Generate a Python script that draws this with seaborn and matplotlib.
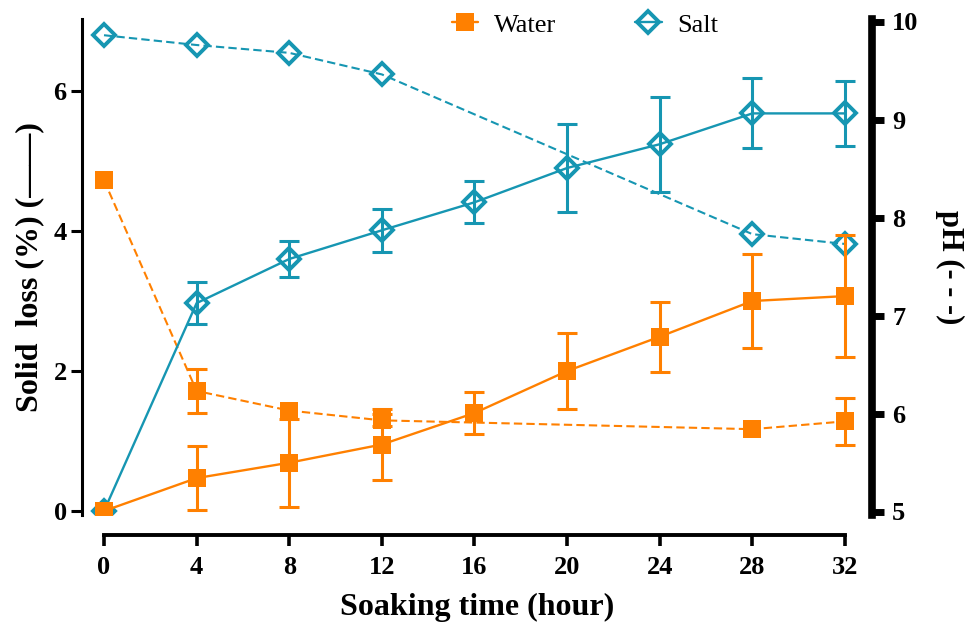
import numpy as np
import pandas as pd
import matplotlib
matplotlib.use("Agg")
import matplotlib.pyplot as plt
import seaborn as sns

# Soaking times (hour)
hours = [0, 4, 8, 12, 16, 20, 24, 28, 32]
ph_hours = [0, 4, 8, 12, 28, 32]

# Solid loss (%) with standard deviations
water_loss = [0.0, 0.47, 0.69, 0.95, 1.40, 2.00, 2.49, 3.00, 3.07]
water_loss_sd = [0.0, 0.46, 0.63, 0.51, 0.30, 0.54, 0.50, 0.67, 0.87]
salt_loss = [0.0, 2.97, 3.60, 4.01, 4.41, 4.90, 5.24, 5.68, 5.68]
salt_loss_sd = [0.0, 0.30, 0.26, 0.31, 0.30, 0.63, 0.68, 0.50, 0.47]

# pH of the soaking medium
water_ph = [8.38, 6.23, 6.03, 5.93, 5.84, 5.92]
water_ph_sd = [0.0, 0.22, 0.0, 0.06, 0.0, 0.24]
salt_ph = [9.86, 9.76, 9.68, 9.46, 7.83, 7.73]

x_ticks = [0, 4, 8, 12, 16, 20, 24, 28, 32]
loss_ticks = [0, 2, 4, 6]
ph_ticks = [5, 6, 7, 8, 9, 10]

ORANGE = "#FF8000"
TEAL = "#1696B2"

sns.set_style("ticks")
plt.rcParams["font.family"] = ["Liberation Serif", "DejaVu Serif"]
plt.rcParams["font.weight"] = "bold"
for key in ["axes.edgecolor", "text.color", "axes.labelcolor", "xtick.color", "ytick.color"]:
    plt.rcParams[key] = "black"

loss_df = pd.DataFrame({"hour": hours, "water": water_loss, "salt": salt_loss,
                        "water_sd": water_loss_sd, "salt_sd": salt_loss_sd})
ph_df = pd.DataFrame({"hour": ph_hours, "water": water_ph, "salt": salt_ph,
                      "water_sd": water_ph_sd})

fig = plt.figure(figsize=(9.66, 6.26), dpi=100)
ax = fig.add_axes([82 / 966, 1 - 515 / 626, (872 - 82) / 966, (515 - 19) / 626])
ax2 = ax.twinx()

line_kw = dict(linewidth=1.7, errorbar=None, legend=False)
dash_kw = dict(linewidth=1.5, errorbar=None, legend=False, linestyle=(0, (4, 2)))
sq_kw = dict(marker="s", markersize=13.5, markeredgewidth=0, markeredgecolor=ORANGE)
dm_kw = dict(marker="D", markersize=10.8, markeredgewidth=2.8,
             markeredgecolor=TEAL, markerfacecolor="none")
err_kw = dict(fmt="none", elinewidth=2.2, capsize=7, capthick=2.2)

# pH curves on the right axis
sns.lineplot(data=ph_df, x="hour", y="salt", ax=ax2, color=TEAL, **dash_kw, **dm_kw)
m = ph_df["water_sd"] > 0
ax2.errorbar(ph_df["hour"][m], ph_df["water"][m], yerr=ph_df["water_sd"][m],
             ecolor=ORANGE, **err_kw)
sns.lineplot(data=ph_df, x="hour", y="water", ax=ax2, color=ORANGE, **dash_kw, **sq_kw)

# Solid loss curves on the left axis
m = loss_df["salt_sd"] > 0
ax.errorbar(loss_df["hour"][m], loss_df["salt"][m], yerr=loss_df["salt_sd"][m],
            ecolor=TEAL, **err_kw)
sns.lineplot(data=loss_df, x="hour", y="salt", ax=ax, color=TEAL, **line_kw, **dm_kw)
salt_handle = ax.lines[-1]
m = loss_df["water_sd"] > 0
ax.errorbar(loss_df["hour"][m], loss_df["water"][m], yerr=loss_df["water_sd"][m],
            ecolor=ORANGE, **err_kw)
sns.lineplot(data=loss_df, x="hour", y="water", ax=ax, color=ORANGE, **line_kw, **sq_kw)
water_handle = ax.lines[-1]

ax.set_zorder(ax2.get_zorder() + 1)
ax.patch.set_visible(False)

# Axis limits and ticks
ax.set_xlim(-22 / 23.156, 32 + 27 / 23.156)
ax.set_ylim(-4 / 70, (511 - 19) / 70)
ax2.set_ylim(5 - 3.5 / 98, 5 + (511.5 - 19) / 98)
ax.set_xticks(x_ticks)
ax.set_yticks(loss_ticks)
ax2.set_yticks(ph_ticks)

for s in ["top", "right"]:
    ax.spines[s].set_visible(False)
for s in ["top", "left", "bottom"]:
    ax2.spines[s].set_visible(False)
ax.spines["left"].set_linewidth(2.2)
ax.spines["bottom"].set_linewidth(2.8)
ax.spines["bottom"].set_position(("outward", 14.4))
ax.spines["bottom"].set_bounds(0, 32)
ax2.spines["right"].set_linewidth(5.5)

ax.tick_params(axis="y", length=8, width=2.2, labelsize=19, pad=3)
ax.tick_params(axis="x", length=8, width=2.6, labelsize=19, pad=7)
ax2.tick_params(axis="y", length=8.5, width=5, labelsize=19, pad=6)

ax.set_xlabel("Soaking time (hour)", fontsize=23, fontweight="bold", labelpad=10)
ax.set_ylabel("Solid  loss (%) (——)", fontsize=23, fontweight="bold", labelpad=7)
ax2.set_ylabel("pH (- - -)", fontsize=22, fontweight="bold", rotation=270,
               va="bottom", labelpad=12)

fig.legend([water_handle, salt_handle], ["Water", "Salt"], loc="center",
           bbox_to_anchor=(585 / 966, 1 - 25 / 626), ncol=2, frameon=False,
           handlelength=1.0, handletextpad=0.6, columnspacing=3.0,
           borderaxespad=0, borderpad=0, prop={"size": 19, "weight": "normal"})

fig.savefig("out.png", dpi=100)
